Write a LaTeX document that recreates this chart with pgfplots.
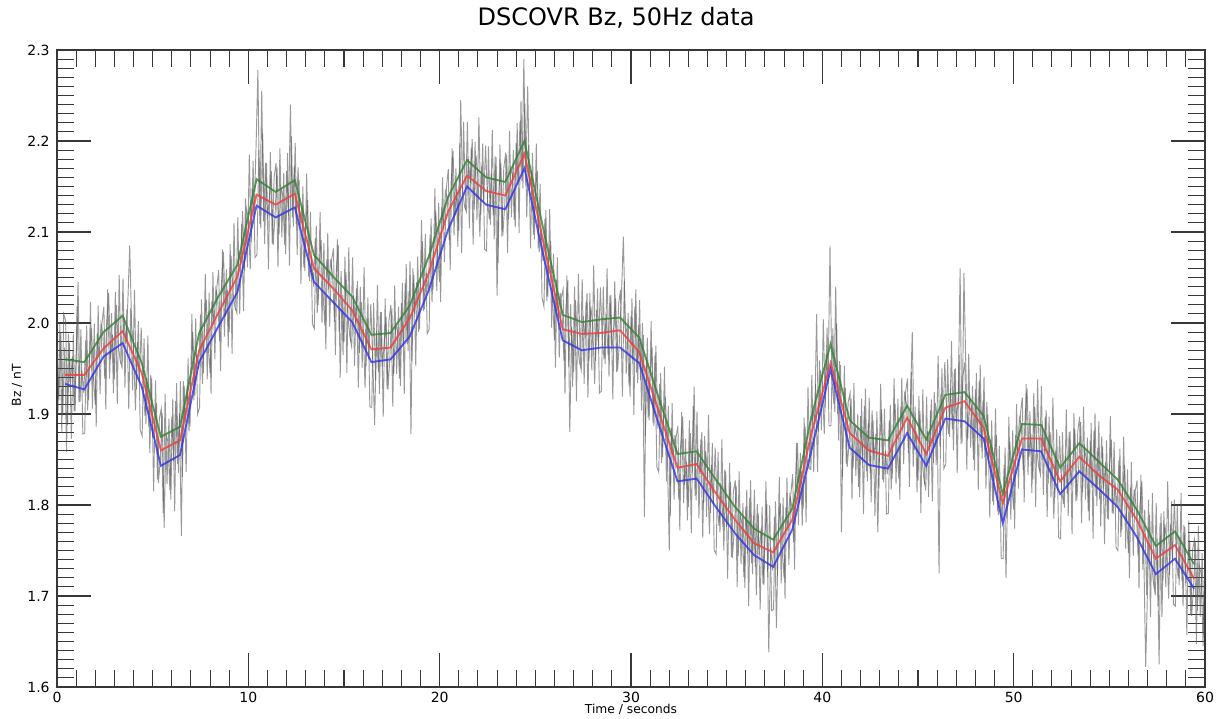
\documentclass[border=0pt]{standalone}
\usepackage{pgfplots}
\pgfplotsset{compat=1.18}
\usepackage{pgfplotstable}
\usepackage{fontspec}
\setmainfont{DejaVu Sans}
\definecolor{axgray}{RGB}{55,55,55}
\definecolor{lgreen}{RGB}{50,130,50}
\definecolor{lred}{RGB}{240,60,60}
\definecolor{lblue}{RGB}{50,50,235}
\definecolor{noisegray}{RGB}{85,85,85}
\pgfplotstableread{
t r g b
0.43 1.943 1.960 1.933
1.43 1.943 1.957 1.927
2.43 1.972 1.990 1.963
3.43 1.991 2.008 1.978
4.43 1.945 1.956 1.930
5.43 1.860 1.875 1.843
6.43 1.871 1.886 1.855
7.43 1.970 1.989 1.957
8.43 2.011 2.029 1.996
9.43 2.051 2.064 2.034
10.43 2.141 2.158 2.129
11.43 2.130 2.144 2.116
12.43 2.142 2.157 2.127
13.43 2.060 2.075 2.045
14.43 2.038 2.051 2.023
15.43 2.014 2.029 2.001
16.43 1.971 1.987 1.957
17.43 1.973 1.989 1.960
18.43 2.005 2.019 1.985
19.43 2.055 2.073 2.036
20.43 2.122 2.138 2.102
21.43 2.162 2.179 2.150
22.43 2.145 2.160 2.130
23.43 2.140 2.155 2.125
24.43 2.186 2.200 2.170
25.43 2.088 2.102 2.073
26.43 1.993 2.009 1.981
27.43 1.988 2.001 1.970
28.43 1.989 2.004 1.973
29.43 1.992 2.006 1.973
30.43 1.968 1.984 1.956
31.43 1.904 1.919 1.890
32.43 1.841 1.856 1.826
33.43 1.845 1.859 1.829
34.43 1.813 1.828 1.798
35.43 1.784 1.798 1.769
36.43 1.758 1.774 1.745
37.43 1.748 1.762 1.732
38.43 1.784 1.796 1.773
39.43 1.879 1.897 1.860
40.43 1.956 1.977 1.949
41.43 1.879 1.893 1.863
42.43 1.860 1.874 1.844
43.43 1.854 1.871 1.840
44.43 1.896 1.909 1.879
45.43 1.856 1.872 1.843
46.43 1.907 1.921 1.895
47.43 1.914 1.924 1.892
48.43 1.885 1.898 1.873
49.43 1.802 1.812 1.780
50.43 1.873 1.889 1.861
51.43 1.873 1.888 1.859
52.43 1.826 1.841 1.812
53.43 1.853 1.868 1.837
54.43 1.833 1.848 1.818
55.43 1.817 1.828 1.798
56.43 1.784 1.795 1.765
57.43 1.741 1.755 1.724
58.43 1.756 1.771 1.741
59.43 1.719 1.735 1.708
}\smoothdata
\begin{document}
\begin{tikzpicture}
\begin{axis}[
  scale only axis,
  width=861pt, height=477.75pt,
  xmin=0, xmax=60, ymin=1.6, ymax=2.3,
  xtick={0,10,...,60},
  ytick={1.6,1.7,...,2.3},
  minor x tick num=9,
  minor y tick num=9,
  tick align=inside,
  major tick length=25.5pt,
  minor tick length=12.75pt,
  axis line style={axgray, line width=0.8pt},
  every tick/.style={axgray, line width=0.8pt},
  every minor tick/.style={axgray, line width=0.8pt},
  /pgf/number format/assume math mode=true,
  yticklabel style={/pgf/number format/fixed, /pgf/number format/precision=1, /pgf/number format/fixed zerofill, xshift=-2pt},
  xticklabel style={/pgf/number format/fixed},
  tick label style={font=\fontsize{10.5}{12}\selectfont},
  title={DSCOVR Bz, 50Hz data},
  title style={at={(axis description cs:0.487,1)}, anchor=center, yshift=18pt, font=\fontsize{18}{20}\selectfont},
  xlabel={Time / seconds},
  xlabel style={at={(axis description cs:0.5,0)}, anchor=center, yshift=-16.5pt, font=\fontsize{9.2}{10}\selectfont},
  ylabel={Bz / nT},
  ylabel style={at={(axis description cs:0,0.474)}, anchor=center, yshift=30pt, font=\fontsize{9.2}{10}\selectfont},
  noise/.style={noisegray, line width=0.7pt, opacity=0.6},
]
\addplot[noise] coordinates {
(0.0,1.975) (0.1,1.915) (0.2,1.990) (0.3,1.900)
(0.4,1.973) (0.5,1.858) (0.6,1.988) (0.7,1.933) (0.8,1.963) (0.9,1.903) (1.0,1.958) (1.1,2.045) (1.2,1.913) (1.3,1.948)
(1.4,1.923) (1.5,1.981) (1.6,1.904) (1.7,1.962) (1.8,1.995) (1.9,1.943) (2.0,1.910) (2.1,1.988) (2.2,1.961) (2.3,1.999)
(2.4,1.987) (2.5,1.939) (2.6,2.001) (2.7,2.033) (2.8,1.960) (2.9,1.987) (3.0,1.938) (3.1,2.020) (3.2,1.977) (3.3,1.959)
(3.4,1.951) (3.5,2.006) (3.6,1.977) (3.7,2.022) (3.8,2.085) (3.9,1.998) (4.0,1.973) (4.1,1.904) (4.2,1.979) (4.3,1.935)
(4.4,1.995) (4.5,1.927) (4.6,1.898) (4.7,1.940) (4.8,1.886) (4.9,1.943) (5.0,1.874) (5.1,1.891) (5.2,1.912) (5.3,1.824)
(5.4,1.850) (5.5,1.901) (5.6,1.775) (5.7,1.878) (5.8,1.869) (5.9,1.816) (6.0,1.897) (6.1,1.848) (6.2,1.914) (6.3,1.845)
(6.4,1.901) (6.5,1.766) (6.6,1.936) (6.7,1.891) (6.8,1.931) (6.9,1.881) (7.0,1.945) (7.1,1.990) (7.2,1.920) (7.3,1.965)
(7.4,1.950) (7.5,2.009) (7.6,1.933) (7.7,1.992) (7.8,2.026) (7.9,1.976) (8.0,1.945) (8.1,2.024) (8.2,1.998) (8.3,2.037)
(8.4,2.026) (8.5,1.980) (8.6,2.044) (8.7,2.078) (8.8,2.007) (8.9,2.036) (9.0,1.990) (9.1,2.074) (9.2,2.033) (9.3,2.017)
(9.4,2.011) (9.5,2.080) (9.6,2.064) (9.7,2.123) (9.8,2.057) (9.9,2.126) (10.0,2.115) (10.1,2.059) (10.2,2.148) (10.3,2.117)
(10.4,2.191) (10.5,2.278) (10.6,2.109) (10.7,2.255) (10.8,2.112) (10.9,2.176) (11.0,2.114) (11.1,2.138) (11.2,2.167) (11.3,2.086)
(11.4,2.120) (11.5,2.171) (11.6,2.097) (11.7,2.149) (11.8,2.140) (11.9,2.086) (12.0,2.167) (12.1,2.118) (12.2,2.240) (12.3,2.116)
(12.4,2.172) (12.5,2.109) (12.6,2.171) (12.7,2.107) (12.8,2.129) (12.9,2.061) (13.0,2.108) (13.1,2.135) (13.2,2.046) (13.3,2.073)
(13.4,2.040) (13.5,2.093) (13.6,2.011) (13.7,2.063) (13.8,2.091) (13.9,2.034) (14.0,1.997) (14.1,2.070) (14.2,2.037) (14.3,2.070)
(14.4,2.053) (14.5,2.001) (14.6,2.058) (14.7,2.086) (14.8,1.940) (14.9,2.031) (15.0,1.979) (15.1,2.056) (15.2,2.009) (15.3,1.986)
(15.4,1.974) (15.5,2.030) (15.6,2.000) (15.7,2.046) (15.8,1.967) (15.9,2.023) (16.0,1.998) (16.1,1.929) (16.2,2.005) (16.3,1.960)
(16.4,2.021) (16.5,1.961) (16.6,1.888) (16.7,1.991) (16.8,1.946) (16.9,2.012) (17.0,1.952) (17.1,1.977) (17.2,2.007) (17.3,1.927)
(17.4,1.963) (17.5,2.016) (17.6,1.944) (17.7,1.998) (17.8,1.991) (17.9,1.939) (18.0,2.022) (18.1,1.975) (18.2,2.044) (18.3,1.977)
(18.4,2.035) (18.5,1.878) (18.6,2.060) (18.7,2.010) (18.8,2.045) (18.9,1.990) (19.0,2.050) (19.1,2.090) (19.2,2.015) (19.3,2.055)
(19.4,2.035) (19.5,2.097) (19.6,2.023) (19.7,2.085) (19.8,2.122) (19.9,2.074) (20.0,2.045) (20.1,2.127) (20.2,2.104) (20.3,2.145)
(20.4,2.137) (20.5,2.091) (20.6,2.155) (20.7,2.189) (20.8,2.118) (20.9,2.147) (21.0,2.101) (21.1,2.245) (21.2,2.144) (21.3,2.128)
(21.4,2.122) (21.5,2.180) (21.6,2.154) (21.7,2.202) (21.8,2.125) (21.9,2.184) (22.0,2.162) (22.1,2.095) (22.2,2.173) (22.3,2.132)
(22.4,2.195) (22.5,2.135) (22.6,2.114) (22.7,2.164) (22.8,2.118) (22.9,2.183) (23.0,2.030) (23.1,2.146) (23.2,2.176) (23.3,2.096)
(23.4,2.130) (23.5,2.185) (23.6,2.114) (23.7,2.169) (23.8,2.163) (23.9,2.113) (24.0,2.198) (24.1,2.152) (24.2,2.222) (24.3,2.156)
(24.4,2.290) (24.5,2.151) (24.6,2.260) (24.7,2.147) (24.8,2.167) (24.9,2.097) (25.0,2.142) (25.1,2.167) (25.2,2.078) (25.3,2.103)
(25.4,2.068) (25.5,2.114) (25.6,2.024) (25.7,2.070) (25.8,2.090) (25.9,2.026) (26.0,1.981) (26.1,2.047) (26.2,2.007) (26.3,2.033)
(26.4,2.008) (26.5,1.958) (26.6,2.017) (26.7,2.047) (26.8,1.880) (26.9,1.996) (27.0,1.946) (27.1,2.025) (27.2,1.979) (27.3,1.958)
(27.4,1.948) (27.5,2.008) (27.6,1.983) (27.7,2.033) (27.8,1.958) (27.9,2.018) (28.0,1.998) (28.1,1.933) (28.2,2.014) (28.3,1.974)
(28.4,2.039) (28.5,1.979) (28.6,1.960) (28.7,2.010) (28.8,1.965) (28.9,2.030) (29.0,1.971) (29.1,1.996) (29.2,2.027) (29.3,1.947)
(29.4,1.982) (29.5,2.030) (29.6,2.095) (29.7,2.000) (29.8,1.987) (29.9,1.930) (30.0,2.008) (30.1,1.955) (30.2,2.018) (30.3,1.945)
(30.4,1.998) (30.5,1.937) (30.6,2.000) (30.7,1.787) (30.8,1.962) (30.9,1.896) (31.0,1.945) (31.1,1.973) (31.2,1.887) (31.3,1.975)
(31.4,1.884) (31.5,1.933) (31.6,1.846) (31.7,1.895) (31.8,1.919) (31.9,1.857) (32.0,1.750) (32.1,1.885) (32.2,1.849) (32.3,1.877)
(32.4,1.856) (32.5,1.806) (32.6,1.867) (32.7,1.897) (32.8,1.822) (32.9,1.847) (33.0,1.798) (33.1,1.879) (33.2,1.835) (33.3,1.930)
(33.4,1.805) (33.5,1.862) (33.6,1.834) (33.7,1.880) (33.8,1.802) (33.9,1.859) (34.0,1.836) (34.1,1.768) (34.2,1.844) (34.3,1.801)
(34.4,1.863) (34.5,1.800) (34.6,1.777) (34.7,1.824) (34.8,1.776) (34.9,1.839) (35.0,1.776) (35.1,1.798) (35.2,1.825) (35.3,1.742)
(35.4,1.774) (35.5,1.821) (35.6,1.744) (35.7,1.791) (35.8,1.779) (35.9,1.721) (36.0,1.798) (36.1,1.746) (36.2,1.808) (36.3,1.736)
(36.4,1.788) (36.5,1.732) (36.6,1.801) (36.7,1.745) (36.8,1.774) (36.9,1.713) (37.0,1.767) (37.1,1.801) (37.2,1.638) (37.3,1.754)
(37.4,1.728) (37.5,1.787) (37.6,1.665) (37.7,1.769) (37.8,1.802) (37.9,1.751) (38.0,1.720) (38.1,1.798) (38.2,1.772) (38.3,1.810)
(38.4,1.799) (38.5,1.759) (38.6,1.828) (38.7,1.868) (38.8,1.802) (38.9,1.837) (39.0,1.796) (39.1,1.886) (39.2,1.850) (39.3,1.840)
(39.4,1.839) (39.5,1.907) (39.6,1.889) (39.7,2.010) (39.8,1.880) (39.9,1.948) (40.0,1.935) (40.1,1.878) (40.2,1.966) (40.3,1.933)
(40.4,2.085) (40.5,1.938) (40.6,1.911) (40.7,2.040) (40.8,1.900) (40.9,1.958) (41.0,1.770) (41.1,1.907) (41.2,1.929) (41.3,1.842)
(41.4,1.869) (41.5,1.917) (41.6,1.840) (41.7,1.888) (41.8,1.876) (41.9,1.820) (42.0,1.898) (42.1,1.846) (42.2,1.909) (42.3,1.837)
(42.4,1.890) (42.5,1.835) (42.6,1.904) (42.7,1.849) (42.8,1.878) (42.9,1.770) (43.0,1.871) (43.1,1.905) (43.2,1.825) (43.3,1.859)
(43.4,1.834) (43.5,1.893) (43.6,1.817) (43.7,1.877) (43.8,1.911) (43.9,1.860) (44.0,1.829) (44.1,1.908) (44.2,1.883) (44.3,1.922)
(44.4,1.911) (44.5,1.857) (44.6,1.913) (44.7,1.990) (44.8,1.860) (44.9,1.881) (45.0,1.827) (45.1,1.903) (45.2,1.854) (45.3,1.830)
(45.4,1.816) (45.5,1.881) (45.6,1.861) (45.7,1.916) (45.8,1.846) (45.9,1.912) (46.0,1.897) (46.1,1.725) (46.2,1.922) (46.3,1.887)
(46.4,1.957) (46.5,1.898) (46.6,1.878) (46.7,1.928) (46.8,1.883) (46.9,1.949) (47.0,1.891) (47.1,1.916) (47.2,2.060) (47.3,1.868)
(47.4,2.055) (47.5,1.951) (47.6,1.873) (47.7,1.920) (47.8,1.907) (47.9,1.850) (48.0,1.927) (48.1,1.874) (48.2,1.936) (48.3,1.863)
(48.4,1.915) (48.5,1.852) (48.6,1.913) (48.7,1.850) (48.8,1.872) (48.9,1.804) (49.0,1.850) (49.1,1.877) (49.2,1.789) (49.3,1.815)
(49.4,1.782) (49.5,1.844) (49.6,1.720) (49.7,1.833) (49.8,1.870) (49.9,1.823) (50.0,1.795) (50.1,1.877) (50.2,1.854) (50.3,1.896)
(50.4,1.888) (50.5,1.838) (50.6,1.898) (50.7,1.928) (50.8,1.853) (50.9,1.878) (51.0,1.828) (51.1,1.908) (51.2,1.863) (51.3,1.843)
(51.4,1.833) (51.5,1.888) (51.6,1.859) (51.7,1.904) (51.8,1.824) (51.9,1.880) (52.0,1.855) (52.1,1.785) (52.2,1.860) (52.3,1.816)
(52.4,1.876) (52.5,1.819) (52.6,1.801) (52.7,1.854) (52.8,1.812) (52.9,1.880) (53.0,1.822) (53.1,1.850) (53.2,1.883) (53.3,1.805)
(53.4,1.843) (53.5,1.891) (53.6,1.814) (53.7,1.862) (53.8,1.850) (53.9,1.793) (54.0,1.871) (54.1,1.819) (54.2,1.882) (54.3,1.810)
(54.4,1.863) (54.5,1.806) (54.6,1.875) (54.7,1.818) (54.8,1.847) (54.9,1.785) (55.0,1.838) (55.1,1.872) (55.2,1.790) (55.3,1.824)
(55.4,1.797) (55.5,1.849) (55.6,1.765) (55.7,1.817) (55.8,1.844) (55.9,1.786) (56.0,1.747) (56.1,1.819) (56.2,1.786) (56.3,1.817)
(56.4,1.799) (56.5,1.745) (56.6,1.800) (56.7,1.826) (56.8,1.747) (56.9,1.622) (57.0,1.713) (57.1,1.789) (57.2,1.740) (57.3,1.715)
(57.4,1.701) (57.5,1.763) (57.6,1.625) (57.7,1.791) (57.8,1.717) (57.9,1.779) (58.0,1.760) (58.1,1.697) (58.2,1.778) (58.3,1.740)
(58.4,1.806) (58.5,1.742) (58.6,1.719) (58.7,1.765) (58.8,1.716) (58.9,1.778) (59.0,1.714) (59.1,1.735) (59.2,1.761) (59.3,1.678)
(59.4,1.709) (59.5,1.759) (59.6,1.684) (59.7,1.734) (59.8,1.724) (59.9,1.645) (60.0,1.745)
};
\addplot[noise] coordinates {
(0.05,1.900) (0.15,2.000) (0.25,1.880) (0.35,2.010)
(0.45,2.003) (0.55,1.888) (0.65,1.978) (0.75,1.873) (0.85,1.988) (0.95,1.903) (1.05,2.018) (1.15,1.913) (1.25,1.993) (1.35,1.878)
(1.45,1.879) (1.55,1.997) (1.65,1.915) (1.75,2.023) (1.85,1.906) (1.95,1.999) (2.05,1.886) (2.15,2.019) (2.25,1.922) (2.35,2.000)
(2.45,2.018) (2.55,1.905) (2.65,2.037) (2.75,1.939) (2.85,2.011) (2.95,1.923) (3.05,2.034) (3.15,1.911) (3.25,2.053) (3.35,1.955)
(3.45,2.049) (3.55,1.929) (3.65,2.015) (3.75,1.905) (3.85,2.016) (3.95,1.926) (4.05,2.036) (4.15,1.927) (4.25,2.002) (4.35,1.883)
(4.45,1.876) (4.55,1.983) (4.65,1.889) (4.75,1.986) (4.85,1.857) (4.95,1.939) (5.05,1.815) (5.15,1.937) (5.25,1.828) (5.35,1.895)
(5.45,1.906) (5.55,1.791) (5.65,1.922) (5.75,1.823) (5.85,1.895) (5.95,1.806) (6.05,1.917) (6.15,1.793) (6.25,1.934) (6.35,1.835)
(6.45,1.936) (6.55,1.831) (6.65,1.931) (6.75,1.836) (6.85,1.961) (6.95,1.886) (7.05,2.010) (7.15,1.915) (7.25,2.005) (7.35,1.900)
(7.45,1.907) (7.55,2.026) (7.65,1.945) (7.75,2.054) (7.85,1.938) (7.95,2.033) (8.05,1.922) (8.15,2.056) (8.25,1.960) (8.35,2.039)
(8.45,2.058) (8.55,1.947) (8.65,2.081) (8.75,1.985) (8.85,2.059) (8.95,1.973) (9.05,2.087) (9.15,1.966) (9.25,2.110) (9.35,2.014)
(9.45,2.116) (9.55,2.010) (9.65,2.109) (9.75,2.013) (9.85,2.137) (9.95,2.061) (10.05,2.185) (10.15,2.089) (10.25,2.178) (10.35,2.072)
(10.45,2.075) (10.55,2.190) (10.65,2.104) (10.75,2.208) (10.85,2.087) (10.95,2.176) (11.05,2.059) (11.15,2.188) (11.25,2.087) (11.35,2.161)
(11.45,2.176) (11.55,2.061) (11.65,2.192) (11.75,2.094) (11.85,2.165) (11.95,2.076) (12.05,2.187) (12.15,2.063) (12.25,2.205) (12.35,2.106)
(12.45,2.198) (12.55,2.075) (12.65,2.157) (12.75,2.043) (12.85,2.150) (12.95,2.057) (13.05,2.164) (13.15,2.051) (13.25,2.122) (13.35,1.999)
(13.45,1.994) (13.55,2.107) (13.65,2.020) (13.75,2.122) (13.85,2.000) (13.95,2.088) (14.05,1.971) (14.15,2.099) (14.25,1.996) (14.35,2.069)
(14.45,2.082) (14.55,1.965) (14.65,2.092) (14.75,1.990) (14.85,2.057) (14.95,1.965) (15.05,2.073) (15.15,1.945) (15.25,2.083) (15.35,1.980)
(15.45,2.072) (15.55,1.953) (15.65,2.038) (15.75,1.929) (15.85,2.040) (15.95,1.951) (16.05,2.061) (16.15,1.952) (16.25,2.028) (16.35,1.908)
(16.45,1.907) (16.55,2.022) (16.65,1.937) (16.75,2.042) (16.85,1.922) (16.95,2.012) (17.05,1.897) (17.15,2.027) (17.25,1.927) (17.35,2.003)
(17.45,2.020) (17.55,1.908) (17.65,2.041) (17.75,1.944) (17.85,2.018) (17.95,1.931) (18.05,2.044) (18.15,1.922) (18.25,2.065) (18.35,1.969)
(18.45,2.068) (18.55,1.958) (18.65,2.053) (18.75,1.953) (18.85,2.073) (18.95,1.993) (19.05,2.113) (19.15,2.013) (19.25,2.098) (19.35,1.988)
(19.45,1.993) (19.55,2.115) (19.65,2.036) (19.75,2.148) (19.85,2.035) (19.95,2.132) (20.05,2.023) (20.15,2.160) (20.25,2.067) (20.35,2.148)
(20.45,2.169) (20.55,2.058) (20.65,2.192) (20.75,2.096) (20.85,2.170) (20.95,2.084) (21.05,2.198) (21.15,2.077) (21.25,2.221) (21.35,2.125)
(21.45,2.221) (21.55,2.104) (21.65,2.193) (21.75,2.086) (21.85,2.199) (21.95,2.113) (22.05,2.226) (22.15,2.119) (22.25,2.197) (22.35,2.081)
(22.45,2.079) (22.55,2.194) (22.65,2.108) (22.75,2.212) (22.85,2.092) (22.95,2.182) (23.05,2.066) (23.15,2.196) (23.25,2.095) (23.35,2.170)
(23.45,2.187) (23.55,2.077) (23.65,2.211) (23.75,2.116) (23.85,2.190) (23.95,2.105) (24.05,2.220) (24.15,2.099) (24.25,2.244) (24.35,2.148)
(24.45,2.241) (24.55,2.116) (24.65,2.196) (24.75,2.082) (24.85,2.187) (24.95,2.092) (25.05,2.197) (25.15,2.082) (25.25,2.153) (25.35,2.028)
(25.45,2.018) (25.55,2.124) (25.65,2.029) (25.75,2.125) (25.85,1.995) (25.95,2.076) (26.05,1.951) (26.15,2.072) (26.25,1.962) (26.35,2.028)
(26.45,2.037) (26.55,1.922) (26.65,2.052) (26.75,1.952) (26.85,2.021) (26.95,1.930) (27.05,2.040) (27.15,1.914) (27.25,2.054) (27.35,1.954)
(27.45,2.048) (27.55,1.933) (27.65,2.023) (27.75,1.918) (27.85,2.033) (27.95,1.948) (28.05,2.063) (28.15,1.958) (28.25,2.038) (28.35,1.923)
(28.45,1.925) (28.55,2.040) (28.65,1.955) (28.75,2.060) (28.85,1.941) (28.95,2.031) (29.05,1.916) (29.15,2.046) (29.25,1.946) (29.35,2.021)
(29.45,2.036) (29.55,1.919) (29.65,2.046) (29.75,1.944) (29.85,2.011) (29.95,1.919) (30.05,2.027) (30.15,1.899) (30.25,2.037) (30.35,1.934)
(30.45,2.025) (30.55,1.904) (30.65,1.987) (30.75,1.876) (30.85,1.984) (30.95,1.893) (31.05,2.002) (31.15,1.890) (31.25,1.964) (31.35,1.842)
(31.45,1.836) (31.55,1.945) (31.65,1.853) (31.75,1.952) (31.85,1.826) (31.95,1.909) (32.05,1.788) (32.15,1.912) (32.25,1.806) (32.35,1.874)
(32.45,1.887) (32.55,1.772) (32.65,1.902) (32.75,1.802) (32.85,1.873) (32.95,1.783) (33.05,1.893) (33.15,1.769) (33.25,1.909) (33.35,1.810)
(33.45,1.903) (33.55,1.785) (33.65,1.872) (33.75,1.764) (33.85,1.876) (33.95,1.787) (34.05,1.899) (34.15,1.791) (34.25,1.868) (34.35,1.750)
(34.45,1.746) (34.55,1.858) (34.65,1.770) (34.75,1.872) (34.85,1.750) (34.95,1.837) (35.05,1.719) (35.15,1.846) (35.25,1.743) (35.35,1.815)
(35.45,1.827) (35.55,1.710) (35.65,1.837) (35.75,1.735) (35.85,1.802) (35.95,1.709) (36.05,1.817) (36.15,1.689) (36.25,1.827) (36.35,1.724)
(36.45,1.817) (36.55,1.701) (36.65,1.791) (36.75,1.685) (36.85,1.798) (36.95,1.712) (37.05,1.826) (37.15,1.721) (37.25,1.800) (37.35,1.684)
(37.45,1.685) (37.55,1.804) (37.65,1.722) (37.75,1.831) (37.85,1.714) (37.95,1.808) (38.05,1.697) (38.15,1.830) (38.25,1.734) (38.35,1.812)
(38.45,1.834) (38.55,1.729) (38.65,1.868) (38.75,1.778) (38.85,1.857) (38.95,1.777) (39.05,1.896) (39.15,1.781) (39.25,1.930) (39.35,1.840)
(39.45,1.943) (39.55,1.836) (39.65,1.933) (39.75,1.836) (39.85,1.959) (39.95,1.882) (40.05,2.004) (40.15,1.907) (40.25,1.995) (40.35,1.887)
(40.45,1.887) (40.55,1.994) (40.65,1.902) (40.75,1.999) (40.85,1.871) (40.95,1.954) (41.05,1.831) (41.15,1.953) (41.25,1.845) (41.35,1.913)
(41.45,1.923) (41.55,1.806) (41.65,1.934) (41.75,1.832) (41.85,1.900) (41.95,1.809) (42.05,1.917) (42.15,1.790) (42.25,1.928) (42.35,1.826)
(42.45,1.918) (42.55,1.803) (42.65,1.893) (42.75,1.788) (42.85,1.903) (42.95,1.818) (43.05,1.933) (43.15,1.828) (43.25,1.906) (43.35,1.790)
(43.45,1.791) (43.55,1.910) (43.65,1.829) (43.75,1.939) (43.85,1.823) (43.95,1.917) (44.05,1.806) (44.15,1.940) (44.25,1.845) (44.35,1.924)
(44.45,1.939) (44.55,1.820) (44.65,1.946) (44.75,1.842) (44.85,1.908) (44.95,1.814) (45.05,1.920) (45.15,1.791) (45.25,1.927) (45.35,1.823)
(45.45,1.919) (45.55,1.809) (45.65,1.904) (45.75,1.804) (45.85,1.924) (45.95,1.844) (46.05,1.964) (46.15,1.864) (46.25,1.950) (46.35,1.840)
(46.45,1.845) (46.55,1.960) (46.65,1.875) (46.75,1.980) (46.85,1.860) (46.95,1.950) (47.05,1.835) (47.15,1.965) (47.25,1.867) (47.35,1.943)
(47.45,1.957) (47.55,1.839) (47.65,1.966) (47.75,1.863) (47.85,1.931) (47.95,1.838) (48.05,1.945) (48.15,1.817) (48.25,1.954) (48.35,1.851)
(48.45,1.941) (48.55,1.818) (48.65,1.899) (48.75,1.786) (48.85,1.893) (48.95,1.800) (49.05,1.906) (49.15,1.793) (49.25,1.865) (49.35,1.741)
(49.45,1.741) (49.55,1.863) (49.65,1.785) (49.75,1.897) (49.85,1.784) (49.95,1.882) (50.05,1.774) (50.15,1.911) (50.25,1.818) (50.35,1.900)
(50.45,1.918) (50.55,1.803) (50.65,1.933) (50.75,1.833) (50.85,1.903) (50.95,1.813) (51.05,1.923) (51.15,1.798) (51.25,1.938) (51.35,1.838)
(51.45,1.931) (51.55,1.811) (51.65,1.897) (51.75,1.787) (51.85,1.897) (51.95,1.808) (52.05,1.918) (52.15,1.808) (52.25,1.883) (52.35,1.764)
(52.45,1.763) (52.55,1.880) (52.65,1.797) (52.75,1.905) (52.85,1.788) (52.95,1.881) (53.05,1.768) (53.15,1.901) (53.25,1.804) (53.35,1.881)
(53.45,1.897) (53.55,1.780) (53.65,1.908) (53.75,1.806) (53.85,1.874) (53.95,1.782) (54.05,1.890) (54.15,1.763) (54.25,1.901) (54.35,1.799)
(54.45,1.892) (54.55,1.776) (54.65,1.864) (54.75,1.757) (54.85,1.871) (54.95,1.784) (55.05,1.898) (55.15,1.791) (55.25,1.869) (55.35,1.753)
(55.45,1.750) (55.55,1.862) (55.65,1.773) (55.75,1.875) (55.85,1.752) (55.95,1.839) (56.05,1.720) (56.15,1.847) (56.25,1.744) (56.35,1.815)
(56.45,1.827) (56.55,1.708) (56.65,1.833) (56.75,1.729) (56.85,1.795) (56.95,1.701) (57.05,1.806) (57.15,1.677) (57.25,1.813) (57.35,1.708)
(57.45,1.802) (57.55,1.689) (57.65,1.780) (57.75,1.677) (57.85,1.793) (57.95,1.710) (58.05,1.826) (58.15,1.723) (58.25,1.804) (58.35,1.691)
(58.45,1.689) (58.55,1.800) (58.65,1.712) (58.75,1.813) (58.85,1.689) (58.95,1.776) (59.05,1.657) (59.15,1.783) (59.25,1.679) (59.35,1.751)
(59.45,1.762) (59.55,1.647) (59.65,1.777) (59.75,1.677) (59.85,1.747) (59.95,1.657)
};
\addplot[lgreen, line width=1.4pt, opacity=0.8] table[x=t, y=g] {\smoothdata};
\addplot[lred, line width=1.4pt, opacity=0.8] table[x=t, y=r] {\smoothdata};
\addplot[lblue, line width=1.4pt, opacity=0.8] table[x=t, y=b] {\smoothdata};
\end{axis}
\pgfresetboundingbox
\path ([shift={(-42.75pt,-24pt)}]current axis.south west) rectangle ([shift={(8.25pt,37.5pt)}]current axis.north east);
\end{tikzpicture}
\end{document}
